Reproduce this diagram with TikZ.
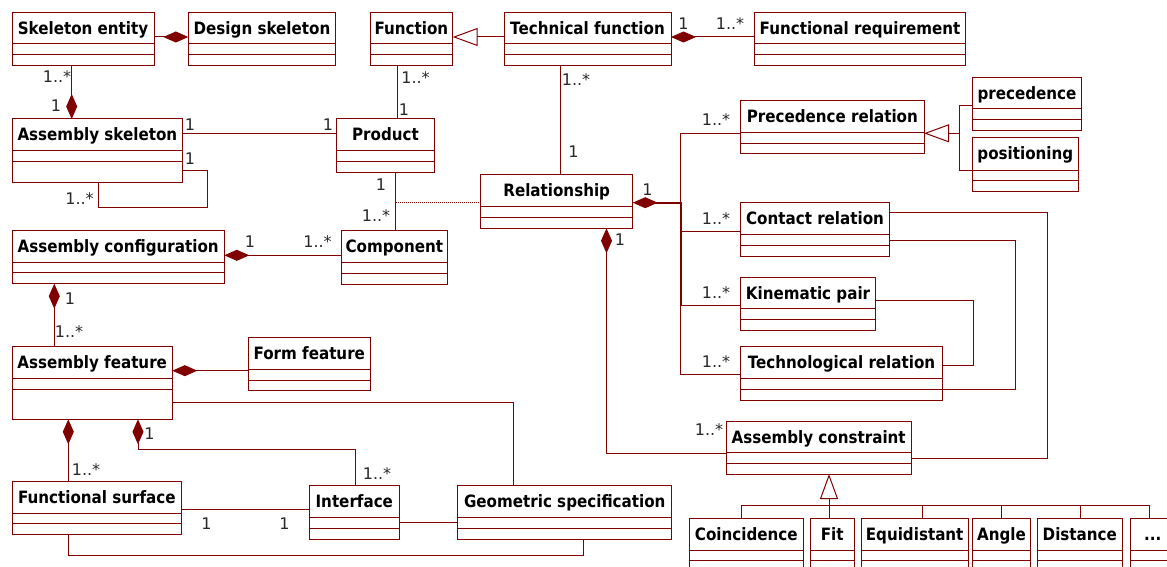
\documentclass[tikz,border=0pt]{standalone}
\usepackage{fontspec}
\usetikzlibrary{arrows.meta}
\newfontfamily\umltitlefont[FakeStretch=0.89]{DejaVu Sans}
\newfontfamily\umllabelfont{DejaVu Sans}
\definecolor{umlred}{RGB}{128,0,0}
\definecolor{umllab}{RGB}{40,40,40}
\tikzset{
  clsbox/.style={draw=umlred, line width=1pt, fill=white, inner sep=0pt, outer sep=0pt, rectangle, anchor=north west},
  clsline/.style={draw=umlred, line width=1pt},
  clstitle/.style={font=\umltitlefont\bfseries\fontsize{17}{20}\selectfont, text=black, inner sep=0pt, anchor=base},
  mult/.style={font=\umllabelfont\fontsize{16}{19}\selectfont, text=umllab, inner sep=0pt},
  assoc/.style={draw=umlred, line width=1pt},
  dmstart/.style={{Diamond[length=25pt,width=11pt]}-},
  dmend/.style={-{Diamond[length=25pt,width=11pt]}},
  genend/.style={-{Triangle[open,length=25pt,width=18pt,fill=white]}},
}
% name, x1, y1, x2, y2, line1, line2, text
\newcommand\umlclass[8]{%
  \node[clsbox, minimum width={#4-#2}, minimum height={#5-#3}] (#1) at (#2,#3) {};
  \draw[clsline] (#2,#6) -- (#4,#6) (#2,#7) -- (#4,#7);
  \node[clstitle] (#1-t) at ({(#2+#4)/2},{#3+22}) {#8};
}
\begin{document}
\begin{tikzpicture}[x=1pt,y=-1pt]
\useasboundingbox (0,0) rectangle (1167,567);
\fill[white] (0,0) rectangle (1167,567);
\clip (0,0) rectangle (1167,567);

% ---------- classes ----------
\umlclass{se}{12}{12.3}{154}{66}{44}{54.3}{Skeleton entity}
\umlclass{ds}{188.3}{12.3}{335.7}{66}{44}{54.3}{Design skeleton}
\umlclass{fn}{370}{12.3}{452.7}{66}{44}{54.3}{Function}
\umlclass{tf}{504}{12.3}{671}{66}{44}{54.3}{Technical function}
\umlclass{fr}{754.3}{12.3}{965.7}{66}{44}{54.3}{Functional requirement}
\umlclass{as}{12}{119}{182.7}{182.7}{151}{161.7}{Assembly skeleton}
\umlclass{pr}{336.7}{119}{434.3}{172.3}{151}{161.7}{Product}
\umlclass{rl}{480.7}{174.7}{632.7}{228.3}{206.7}{217.3}{Relationship}
\umlclass{cm}{341.7}{230.7}{447}{284}{262.3}{273}{Component}
\umlclass{ac}{12}{230.3}{224.3}{283.7}{262.3}{272.7}{Assembly configuration}
\umlclass{af}{12}{346.7}{172.3}{419.3}{378.3}{389}{Assembly feature}
\umlclass{ff}{248.3}{337.3}{370.3}{390.7}{369.3}{380}{Form feature}
\umlclass{fs}{12}{481}{181.7}{534.3}{513.3}{523.7}{Functional surface}
\umlclass{it}{309}{485.7}{399.6}{539}{517.3}{528}{Interface}
\umlclass{gs}{457.6}{485.7}{671.9}{539}{517.3}{528}{Geometric specification}
\umlclass{prr}{740.7}{100.7}{924}{154}{132.3}{143.3}{Precedence relation}
\umlclass{prec}{972.3}{77.3}{1081.7}{130.7}{109}{119.3}{precedence}
\umlclass{pos}{972.3}{137.3}{1078.3}{191}{170}{180}{positioning}
\umlclass{cr}{740.7}{202.7}{889.3}{256}{234.3}{245}{Contact relation}
\umlclass{kp}{740.7}{277}{875.3}{330.3}{308.3}{319.3}{Kinematic pair}
\umlclass{tr}{740.7}{346.7}{942.3}{400}{378.3}{389}{Technological relation}
\umlclass{acn}{726.3}{421}{911}{474}{452.7}{463.3}{Assembly constraint}
\umlclass{co}{689.3}{518.3}{803.3}{585}{550.7}{560.7}{Coincidence}
\umlclass{fit}{810}{518.3}{854.3}{585}{550.7}{560.7}{Fit}
\umlclass{eq}{861}{518.3}{968.3}{585}{550.7}{560.7}{Equidistant}
\umlclass{an}{972.3}{518.3}{1030.7}{585}{550.7}{560.7}{Angle}
\umlclass{di}{1037.3}{518.3}{1122.3}{585}{550.7}{560.7}{Distance}
\umlclass{dots}{1130.3}{518.3}{1175}{585}{550.7}{560.7}{...}

% ---------- connectors ----------
\draw[assoc,dmend] (se.east |- 0,37) -- (ds.west |- 0,37);
\draw[assoc,dmend] (se.south -| 71.7,0) -- (as.north -| 71.7,0);
\draw[assoc] (as.east |- 0,133.7) -- (pr.west |- 0,133.7);
\draw[assoc] (as.east |- 0,170.7) -| (207.3,207.3) -| (as.south -| 98.7,0);
\draw[assoc,genend] (tf.west |- 0,37) -- (fn.east |- 0,37);
\draw[assoc,dmstart] (tf.east |- 0,37) -- (fr.west |- 0,37);
\draw[assoc] (fn.south -| 397.7,0) -- (pr.north -| 397.7,0);
\draw[assoc] (tf.south -| 560,0) -- (rl.north -| 560,0);
\draw[assoc] (pr.south -| 395.7,0) -- (cm.north -| 395.7,0);
\coordinate (dj) at (395.7,202.3);
\draw[assoc,densely dotted,line width=0.8pt] (dj) -- (rl.west |- dj);
\draw[assoc,dmstart] (ac.east |- 0,255.3) -- (cm.west |- 0,255.3);
\draw[assoc,dmstart] (ac.south -| 54.3,0) -- (af.north -| 54.3,0);
\draw[assoc,dmstart] (af.east |- 0,370.7) -- (ff.west |- 0,370.7);
\draw[assoc] (af.east |- 0,402.7) -| (gs.north -| 513.7,0);
\draw[assoc,dmstart] (af.south -| 68.3,0) -- (fs.north -| 68.3,0);
\draw[assoc,dmstart] (af.south -| 138,0) |- (355,449.3) -- (it.north -| 355,0);
\draw[assoc] (fs.east |- 0,509.3) -- (it.west |- 0,509.3);
\draw[assoc] (it.east |- 0,522.3) -- (gs.west |- 0,522.3);
\draw[assoc] (fs.south -| 68.3,0) |- (583,555.7) -- (gs.south -| 583,0);

% relationship composition bus
\coordinate (bus) at (680.7,202.7);
\draw[assoc,dmstart,line width=1.8pt] (rl.east |- bus) -- (bus) -- (680.7,305.3);
\draw[assoc] (bus) |- (prr.west |- 0,133.3);
\draw[assoc] (bus) |- (cr.west |- 0,231);
\draw[assoc] (bus) |- (kp.west |- 0,305.3);
\draw[assoc] (bus) |- (tr.west |- 0,374.7);
\draw[assoc,dmstart] (rl.south -| 606.5,0) |- (acn.west |- 0,453.3);

% precedence generalization
\coordinate (gj) at (959,133.3);
\draw[assoc] (prec.west |- 0,106) -| (gj);
\draw[assoc] (pos.west |- 0,170.7) -| (gj);
\draw[assoc,genend] (gj) -- (prr.east |- gj);

% cross links on the right
\draw[assoc] (cr.east |- 0,212.7) -| (1047.3,458.3) -- (acn.east |- 0,458.3);
\draw[assoc] (cr.east |- 0,240) -| (1015,389) -- (tr.east |- 0,389);
\draw[assoc] (kp.east |- 0,300.7) -| (973,365.7) -- (tr.east |- 0,365.7);

% constraint generalization
\coordinate (sj) at (829,505);
\draw[assoc,genend] (sj) -- (acn.south -| sj);
\draw[assoc] (co.north -| 741,0) |- (sj);
\draw[assoc] (fit.north -| sj) -- (sj);
\draw[assoc] (eq.north -| 922,0) |- (sj);
\draw[assoc] (an.north -| 1001,0) |- (sj);
\draw[assoc] (di.north -| 1080,0) |- (sj);
\draw[assoc] (dots.north -| 1149.3,0) |- (sj);

% ---------- multiplicities ----------
\node[mult] (l1) at (57,76.7) {1..*};
\node[mult] (l2) at (56,105.7) {1};
\node[mult] (l3) at (190,125) {1};
\node[mult] (l4) at (328,125) {1};
\node[mult] (l5) at (190,158.3) {1};
\node[mult] (l6) at (79.5,198.3) {1..*};
\node[mult] (l7) at (415.5,77.3) {1..*};
\node[mult] (l8) at (404,110) {1};
\node[mult] (l9) at (683.5,23.3) {1};
\node[mult] (l10) at (730,23.3) {1..*};
\node[mult] (l11) at (576,80) {1..*};
\node[mult] (l12) at (573.5,151.7) {1};
\node[mult] (l13) at (647.5,190) {1};
\node[mult] (l14) at (716,119.3) {1..*};
\node[mult] (l15) at (716,218.3) {1..*};
\node[mult] (l16) at (716,292.7) {1..*};
\node[mult] (l17) at (716,361.7) {1..*};
\node[mult] (l18) at (620,239.3) {1};
\node[mult] (l19) at (709,429.3) {1..*};
\node[mult] (l20) at (381,185) {1};
\node[mult] (l21) at (376,216) {1..*};
\node[mult] (l22) at (250,241.7) {1};
\node[mult] (l23) at (317.5,241.7) {1..*};
\node[mult] (l24) at (70,298.3) {1};
\node[mult] (l25) at (69,331.7) {1..*};
\node[mult] (l26) at (86,470) {1..*};
\node[mult] (l27) at (149.5,433.3) {1};
\node[mult] (l28) at (377,474) {1..*};
\node[mult] (l29) at (206.5,524) {1};
\node[mult] (l30) at (284.5,524) {1};
\end{tikzpicture}
\end{document}
